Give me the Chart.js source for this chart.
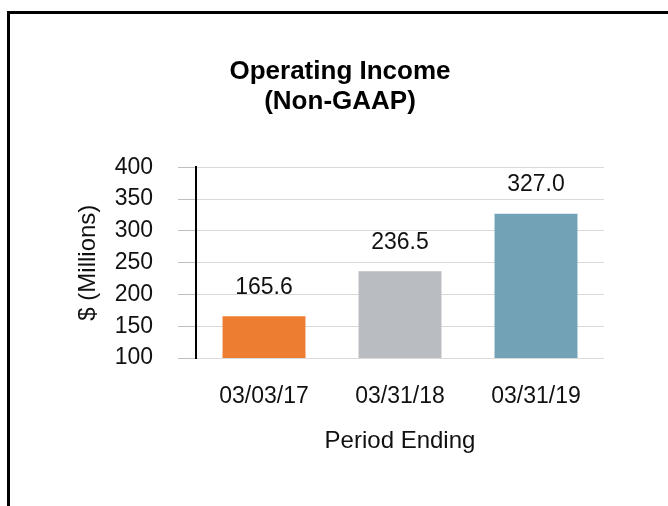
<!DOCTYPE html>
<html>
<head>
<meta charset="utf-8">
<script src="https://cdn.jsdelivr.net/npm/chart.js@4"></script>
<style>
  html, body { margin: 0; padding: 0; background: #ffffff; }
  #wrap { position: relative; width: 668px; height: 506px; overflow: hidden; background: #fff; }
  #frame { position: absolute; left: 7px; top: 11px; width: 800px; height: 700px; border: 3px solid #000; box-sizing: border-box; z-index: 2; pointer-events: none; }
  canvas { position: absolute; left: 0; top: 0; z-index: 1; }
</style>
</head>
<body>
<div id="wrap">
  <canvas id="c" width="668" height="506"></canvas>
  <div id="frame"></div>
</div>
<script>
const categories = ['03/03/17', '03/31/18', '03/31/19'];
const operatingIncome = [165.6, 236.5, 327.0];
const barColors = ['#ED7D31', '#B9BDC1', '#72A2B6'];
const titleLines = ['Operating Income', '(Non-GAAP)'];
const yTitle = '$ (Millions)';
const xTitle = 'Period Ending';

const FONT = "'Liberation Sans', Arial, Helvetica, sans-serif";

const valueLabels = {
  id: 'valueLabels',
  afterDatasetsDraw(chart) {
    const ctx = chart.ctx;
    const meta = chart.getDatasetMeta(0);
    ctx.save();
    ctx.font = '23px ' + FONT;
    ctx.fillStyle = '#111';
    ctx.textAlign = 'center';
    ctx.textBaseline = 'middle';
    meta.data.forEach((bar, i) => {
      ctx.fillText(operatingIncome[i].toFixed(1), bar.x, bar.y - 29);
    });
    ctx.restore();
  }
};

new Chart(document.getElementById('c'), {
  type: 'bar',
  data: {
    labels: categories,
    datasets: [{
      data: operatingIncome,
      backgroundColor: barColors,
      borderWidth: 0,
      barPercentage: 0.61,
      categoryPercentage: 1.0
    }]
  },
  options: {
    responsive: false,
    animation: false,
    layout: { padding: { left: 76, right: 64, top: 0, bottom: 48 } },
    plugins: {
      legend: { display: false },
      tooltip: { enabled: false },
      title: {
        display: true,
        text: titleLines,
        color: '#000',
        font: { family: FONT, size: 26, weight: 'bold', lineHeight: 1.16 },
        padding: { top: 57, bottom: 50 }
      }
    },
    scales: {
      x: {
        afterFit(s) { s.height = 100; },
        grid: { display: false },
        border: { display: false },
        ticks: { color: '#111', font: { family: FONT, size: 23 }, padding: 17 },
        title: { display: true, text: xTitle, color: '#111', font: { family: FONT, size: 24 }, padding: { top: 0, bottom: 2 } }
      },
      y: {
        min: 100, max: 400,
        afterFit(s) { s.width = 120; },
        grid: { color: '#D9D9D9', lineWidth: 1, tickLength: 18, drawTicks: true, tickColor: '#BFBFBF' },
        border: { display: true, color: '#000', width: 2 },
        ticks: { stepSize: 50, color: '#111', font: { family: FONT, size: 23 }, padding: 25 },
        title: { display: true, text: yTitle, color: '#111', font: { family: FONT, size: 24 }, padding: { top: -2, bottom: 0 } }
      }
    }
  },
  plugins: [valueLabels]
});
</script>
</body>
</html>
